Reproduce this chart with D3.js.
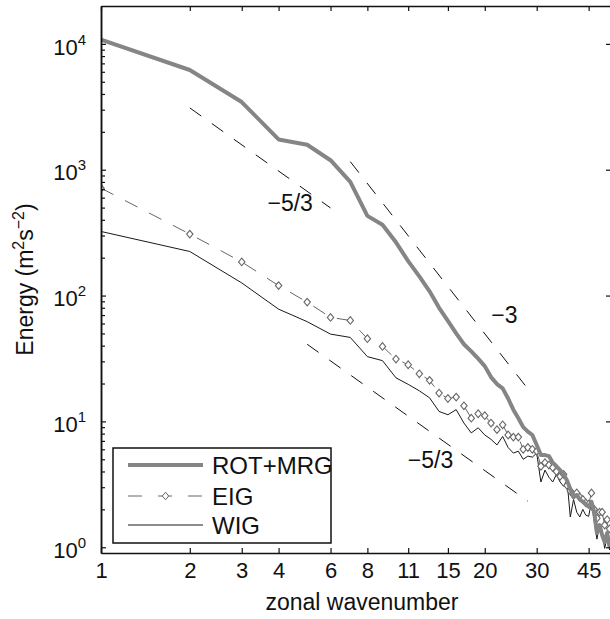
<!DOCTYPE html>
<html>
<head>
<meta charset="utf-8">
<script src="https://cdn.jsdelivr.net/npm/d3@7"></script>
<style>
  body { margin: 0; background: #fff; }
  svg { display: block; font-family: "Liberation Sans", Arial, Helvetica, sans-serif; }
</style>
</head>
<body>
<svg id="chart" width="610" height="619"></svg>
<script>
// zonal wavenumbers 1..53
const wavenumber = d3.range(1, 54);

// ROT+MRG spectrum
const rotMrg = [10800, 6200, 3450, 1740, 1580, 1190, 800, 430, 365, 265,
  188, 142, 108, 80, 63, 50, 41, 36, 31.5, 27.5,
  22.5, 19.8, 18.3, 15.2, 12.4, 10.6, 9.0, 8.3, 7.8, 6.5,
  5.4, 5.4, 5.3, 4.7, 4.4, 4.1, 3.8, 3.4, 2.9, 2.5,
  2.6, 2.4, 2.3, 2.2, 2.1, 2.3, 1.9, 1.3, 1.5, 1.25,
  1.1, 1.3, 1.0];

// EIG spectrum
const eig = [714, 308, 185, 120, 88.7, 67, 63.4, 45.4, 39.4, 31.3,
  28.2, 23.9, 21.2, 16.8, 15.2, 15.6, 13.3, 10.6, 11.5, 11.1,
  9.7, 8.6, 9.4, 7.8, 7.5, 7.5, 6.0, 6.2, 6.0, 5.8,
  4.4, 4.7, 4.5, 4.3, 4.0, 3.66, 3.8, 3.1, 2.8, 2.6,
  2.7, 2.5, 2.4, 2.25, 2.2, 2.7, 2.0, 1.7, 1.9, 1.9,
  1.5, 1.66, 1.4];

// WIG spectrum
const wig = [323, 224, 126, 78, 62, 49.4, 46.5, 32.7, 30.4, 22.2,
  19.7, 17.5, 15.4, 12.0, 11.3, 12.4, 9.7, 8.1, 8.9, 7.8,
  7.2, 6.5, 7.6, 6.2, 5.6, 5.8, 5.0, 5.3, 5.2, 5.6,
  3.3, 4.1, 3.6, 3.3, 3.8, 3.3, 3.05, 3.4, 1.74, 2.4,
  1.9, 1.74, 2.0, 1.8, 1.76, 2.3, 1.6, 1.16, 1.5, 1.3,
  0.98, 1.2, 0.95];

// reference power laws: start wavenumber, energy there, end wavenumber, slope
const refSlopes = [
  { k0: 2, e0: 3100, k1: 6, slope: -5 / 3 },
  { k0: 7, e0: 1160, k1: 29, slope: -3 },
  { k0: 5, e0: 41, k1: 28, slope: -5 / 3 }
];
const slopeLabels = [
  { k: 4.38, e: 472, text: '\u22125/3' },
  { k: 23.3, e: 60.8, text: '\u22123' },
  { k: 13.1, e: 4.29, text: '\u22125/3' }
];

const xTicks = [1, 2, 3, 4, 6, 8, 11, 15, 20, 30, 45];
const yTicks = [1, 10, 100, 1000, 10000];
const yMinor = [];
yTicks.forEach(d => d3.range(2, 10).forEach(m => { if (d * m < 2e4) yMinor.push(d * m); }));

const legendItems = ['ROT+MRG', 'EIG', 'WIG'];

const plotLeft = 101, plotRight = 612, plotTop = 6, plotBottom = 553;
const grey = '#858585';

const svg = d3.select('#chart');

const x = d3.scaleLog().domain([1, 54]).range([plotLeft, plotRight]);
const y = d3.scaleLog().domain([0.9, 2e4]).range([plotBottom, plotTop]);

svg.append('defs').append('clipPath').attr('id', 'plotclip')
  .append('rect').attr('x', plotLeft).attr('y', plotTop)
  .attr('width', plotRight - plotLeft).attr('height', plotBottom - plotTop);

const plot = svg.append('g').attr('clip-path', 'url(#plotclip)');

const line = d3.line().x(d => x(d[0])).y(d => y(d[1]));

// reference slopes
refSlopes.forEach(r => {
  const pts = [r.k0, r.k1].map(k => [k, r.e0 * Math.pow(k / r.k0, r.slope)]);
  plot.append('path')
    .attr('d', line(pts))
    .attr('fill', 'none')
    .attr('stroke', '#111')
    .attr('stroke-width', 1)
    .attr('stroke-dasharray', '14,13');
});

// WIG
plot.append('path')
  .datum(d3.zip(wavenumber, wig))
  .attr('d', line)
  .attr('fill', 'none')
  .attr('stroke', '#1a1a1a')
  .attr('stroke-width', 1);

// EIG
const eigData = d3.zip(wavenumber, eig);
plot.append('path')
  .datum(eigData)
  .attr('d', line)
  .attr('fill', 'none')
  .attr('stroke', '#666')
  .attr('stroke-width', 1)
  .attr('stroke-dasharray', '14,13');

const diamond = 'M0,-3.8L3.2,0L0,3.8L-3.2,0Z';
plot.selectAll('.eigmark')
  .data(eigData)
  .join('path')
  .attr('class', 'eigmark')
  .attr('transform', d => `translate(${x(d[0])},${y(d[1])})`)
  .attr('d', diamond)
  .attr('fill', '#fff')
  .attr('stroke', '#666')
  .attr('stroke-width', 1.1);

// ROT+MRG
plot.append('path')
  .datum(d3.zip(wavenumber, rotMrg))
  .attr('d', line)
  .attr('fill', 'none')
  .attr('stroke', grey)
  .attr('stroke-width', 4)
  .attr('stroke-linejoin', 'round');

// slope labels
svg.selectAll('.slopelabel')
  .data(slopeLabels)
  .join('text')
  .attr('class', 'slopelabel')
  .attr('x', d => x(d.k))
  .attr('y', d => y(d.e))
  .attr('text-anchor', 'middle')
  .attr('font-size', 23)
  .attr('fill', '#111')
  .text(d => d.text);

// axes
const xAxis = svg.append('g')
  .attr('transform', `translate(0,${plotBottom})`)
  .call(d3.axisBottom(x).tickValues(xTicks).tickFormat(d3.format('d')).tickSizeInner(-5).tickSizeOuter(0).tickPadding(9));
xAxis.selectAll('.tick text').attr('font-size', 22).attr('fill', '#111');

svg.append('g')
  .attr('transform', `translate(0,${plotTop})`)
  .call(d3.axisTop(x).tickValues(xTicks).tickFormat('').tickSizeInner(-5).tickSizeOuter(0));

const yAxis = svg.append('g')
  .attr('transform', `translate(${plotLeft},0)`)
  .call(d3.axisLeft(y).tickValues(yTicks).tickSizeInner(-5).tickSizeOuter(0).tickPadding(15));
yAxis.selectAll('.tick text').each(function(d) {
  const t = d3.select(this);
  t.text(null).attr('font-size', 22).attr('fill', '#111').attr('dy', '0.46em');
  t.append('tspan').text('10');
  t.append('tspan').attr('dy', -10).attr('font-size', 15).text(Math.round(Math.log10(d)));
});

svg.append('g')
  .attr('transform', `translate(${plotLeft},0)`)
  .call(d3.axisLeft(y).tickValues(yMinor).tickFormat('').tickSizeInner(-4).tickSizeOuter(0));

svg.append('g')
  .attr('transform', `translate(${plotRight},0)`)
  .call(d3.axisRight(y).tickValues(yTicks).tickFormat('').tickSizeInner(-6).tickSizeOuter(0));

svg.selectAll('.domain').attr('stroke', '#111').attr('stroke-width', 1.5);
svg.selectAll('.tick line').attr('stroke', '#111').attr('stroke-width', 1.2);

// axis titles
svg.append('text')
  .attr('x', 362)
  .attr('y', 610)
  .attr('text-anchor', 'middle')
  .attr('font-size', 23)
  .attr('fill', '#111')
  .text('zonal wavenumber');

const ylab = svg.append('text')
  .attr('transform', `translate(33,${(plotTop + plotBottom) / 2}) rotate(-90)`)
  .attr('text-anchor', 'middle')
  .attr('font-size', 23)
  .attr('fill', '#111');
ylab.append('tspan').text('Energy (m');
ylab.append('tspan').attr('dy', -9).attr('font-size', 16).text('2');
ylab.append('tspan').attr('dy', 9).text('s');
ylab.append('tspan').attr('dy', -9).attr('font-size', 16).text('\u22122');
ylab.append('tspan').attr('dy', 9).text(')');

// legend
const legend = svg.append('g');
legend.append('rect')
  .attr('x', 113).attr('y', 448).attr('width', 218).attr('height', 95)
  .attr('fill', '#fff').attr('stroke', '#111').attr('stroke-width', 1.5);

const rowY = [465, 496, 525];
legend.append('line').attr('x1', 128).attr('x2', 203).attr('y1', rowY[0]).attr('y2', rowY[0])
  .attr('stroke', grey).attr('stroke-width', 4);
legend.append('line').attr('x1', 128).attr('x2', 203).attr('y1', rowY[1]).attr('y2', rowY[1])
  .attr('stroke', '#666').attr('stroke-width', 1).attr('stroke-dasharray', '14,16');
legend.append('path').attr('transform', `translate(165.5,${rowY[1]})`).attr('d', diamond)
  .attr('fill', '#fff').attr('stroke', '#666');
legend.append('line').attr('x1', 128).attr('x2', 203).attr('y1', rowY[2]).attr('y2', rowY[2])
  .attr('stroke', '#1a1a1a').attr('stroke-width', 1);

legend.selectAll('.legtext')
  .data(legendItems)
  .join('text')
  .attr('class', 'legtext')
  .attr('x', 212)
  .attr('y', (d, i) => rowY[i] + 8.5)
  .attr('font-size', 24)
  .attr('fill', '#111')
  .text(d => d);
</script>
</body>
</html>
